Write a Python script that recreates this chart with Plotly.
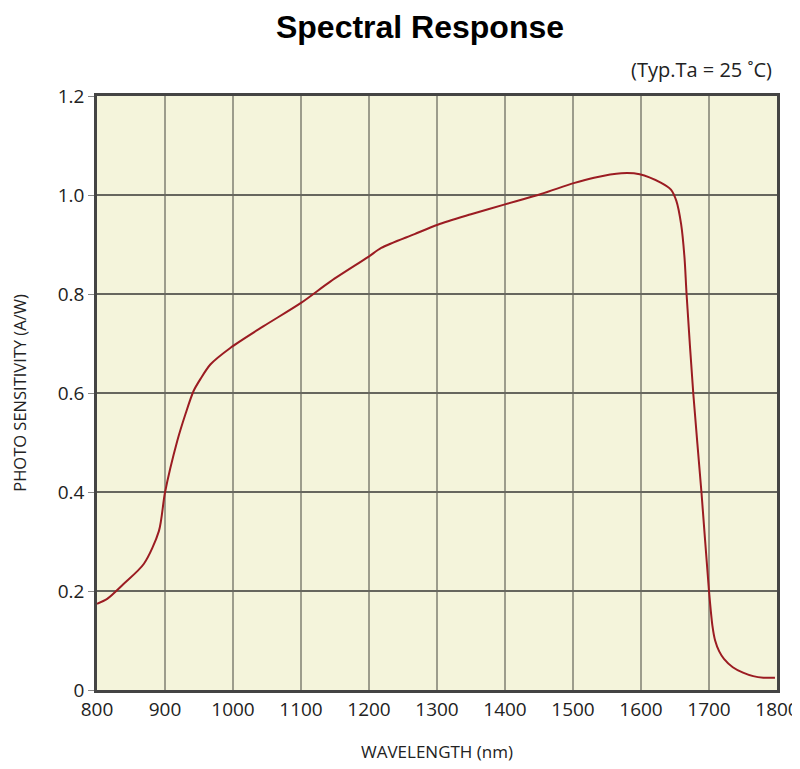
import plotly.graph_objects as go

wavelength_nm = [800, 815, 839, 869, 891, 900, 918, 930, 942, 952, 967, 996, 1045, 1100,
                 1144, 1199, 1218, 1267, 1301, 1350, 1400, 1453, 1501, 1531, 1571, 1598, 1629,
                 1644, 1652, 1659, 1664, 1667, 1677, 1689, 1700, 1705, 1709, 1715, 1722, 1735,
                 1750, 1765, 1780, 1797]
sensitivity = [0.174, 0.184, 0.214, 0.255, 0.321, 0.399, 0.503, 0.557, 0.604, 0.628, 0.658, 0.691,
               0.735, 0.782, 0.826, 0.875, 0.893, 0.921, 0.940, 0.961, 0.981, 1.002, 1.024,
               1.035, 1.044, 1.042, 1.025, 1.011, 0.988, 0.941, 0.873, 0.800, 0.597, 0.398, 0.200,
               0.130, 0.100, 0.078, 0.063, 0.046, 0.035, 0.028, 0.025, 0.025]

x_ticks = [800, 900, 1000, 1100, 1200, 1300, 1400, 1500, 1600, 1700, 1800]
y_ticks = [0, 0.2, 0.4, 0.6, 0.8, 1.0, 1.2]
y_tick_labels = ["0", "0.2", "0.4", "0.6", "0.8", "1.0", "1.2"]

fig = go.Figure()
fig.add_trace(go.Scatter(
    x=wavelength_nm, y=sensitivity, mode="lines",
    line=dict(color="#9b1c22", width=2, shape="spline", smoothing=0.8),
    showlegend=False, hoverinfo="x+y",
))

fig.update_layout(
    width=800, height=769,
    paper_bgcolor="white",
    plot_bgcolor="#f4f4db",
    margin=dict(l=89, r=31, t=88, b=87),
    title=dict(text="<b>Spectral Response</b>", x=0.515, xanchor="center", y=0.976, yanchor="middle",
               font=dict(family="Liberation Sans, Arial", size=32, color="black")),
    font=dict(family="Open Sans, Lato, sans-serif", color="#222"),
    annotations=[dict(text="(Typ.Ta = 25 ˚C)", xref="paper", yref="paper", x=0.996, y=1.018,
                      xanchor="right", yanchor="bottom", showarrow=False,
                      font=dict(size=20, color="#222", family="Open Sans, sans-serif"))],
)

fig.update_xaxes(
    range=[800, 1800], tickvals=x_ticks, ticktext=[str(v) for v in x_ticks],
    showgrid=True, gridcolor="#9c9c8c", gridwidth=1.5,
    showline=True, linecolor="#444444", linewidth=2.5, mirror=True,
    ticks="", tickfont=dict(size=19, color="#222"),
    title=dict(text="WAVELENGTH (nm)", font=dict(size=17, color="#222"), standoff=26),
    zeroline=False, automargin=False,
)
fig.update_yaxes(
    range=[0, 1.2], tickvals=y_ticks, ticktext=y_tick_labels,
    showgrid=True, gridcolor="#66665e", gridwidth=1.5,
    showline=True, linecolor="#444444", linewidth=2.5, mirror=True,
    ticks="outside", ticklen=6, tickcolor="#888888", tickfont=dict(size=19, color="#222"),
    title=dict(text="PHOTO SENSITIVITY (A/W)", font=dict(size=16.5, color="#222"), standoff=27),
    zeroline=False, automargin=False,
)

fig.write_html("out.html")
